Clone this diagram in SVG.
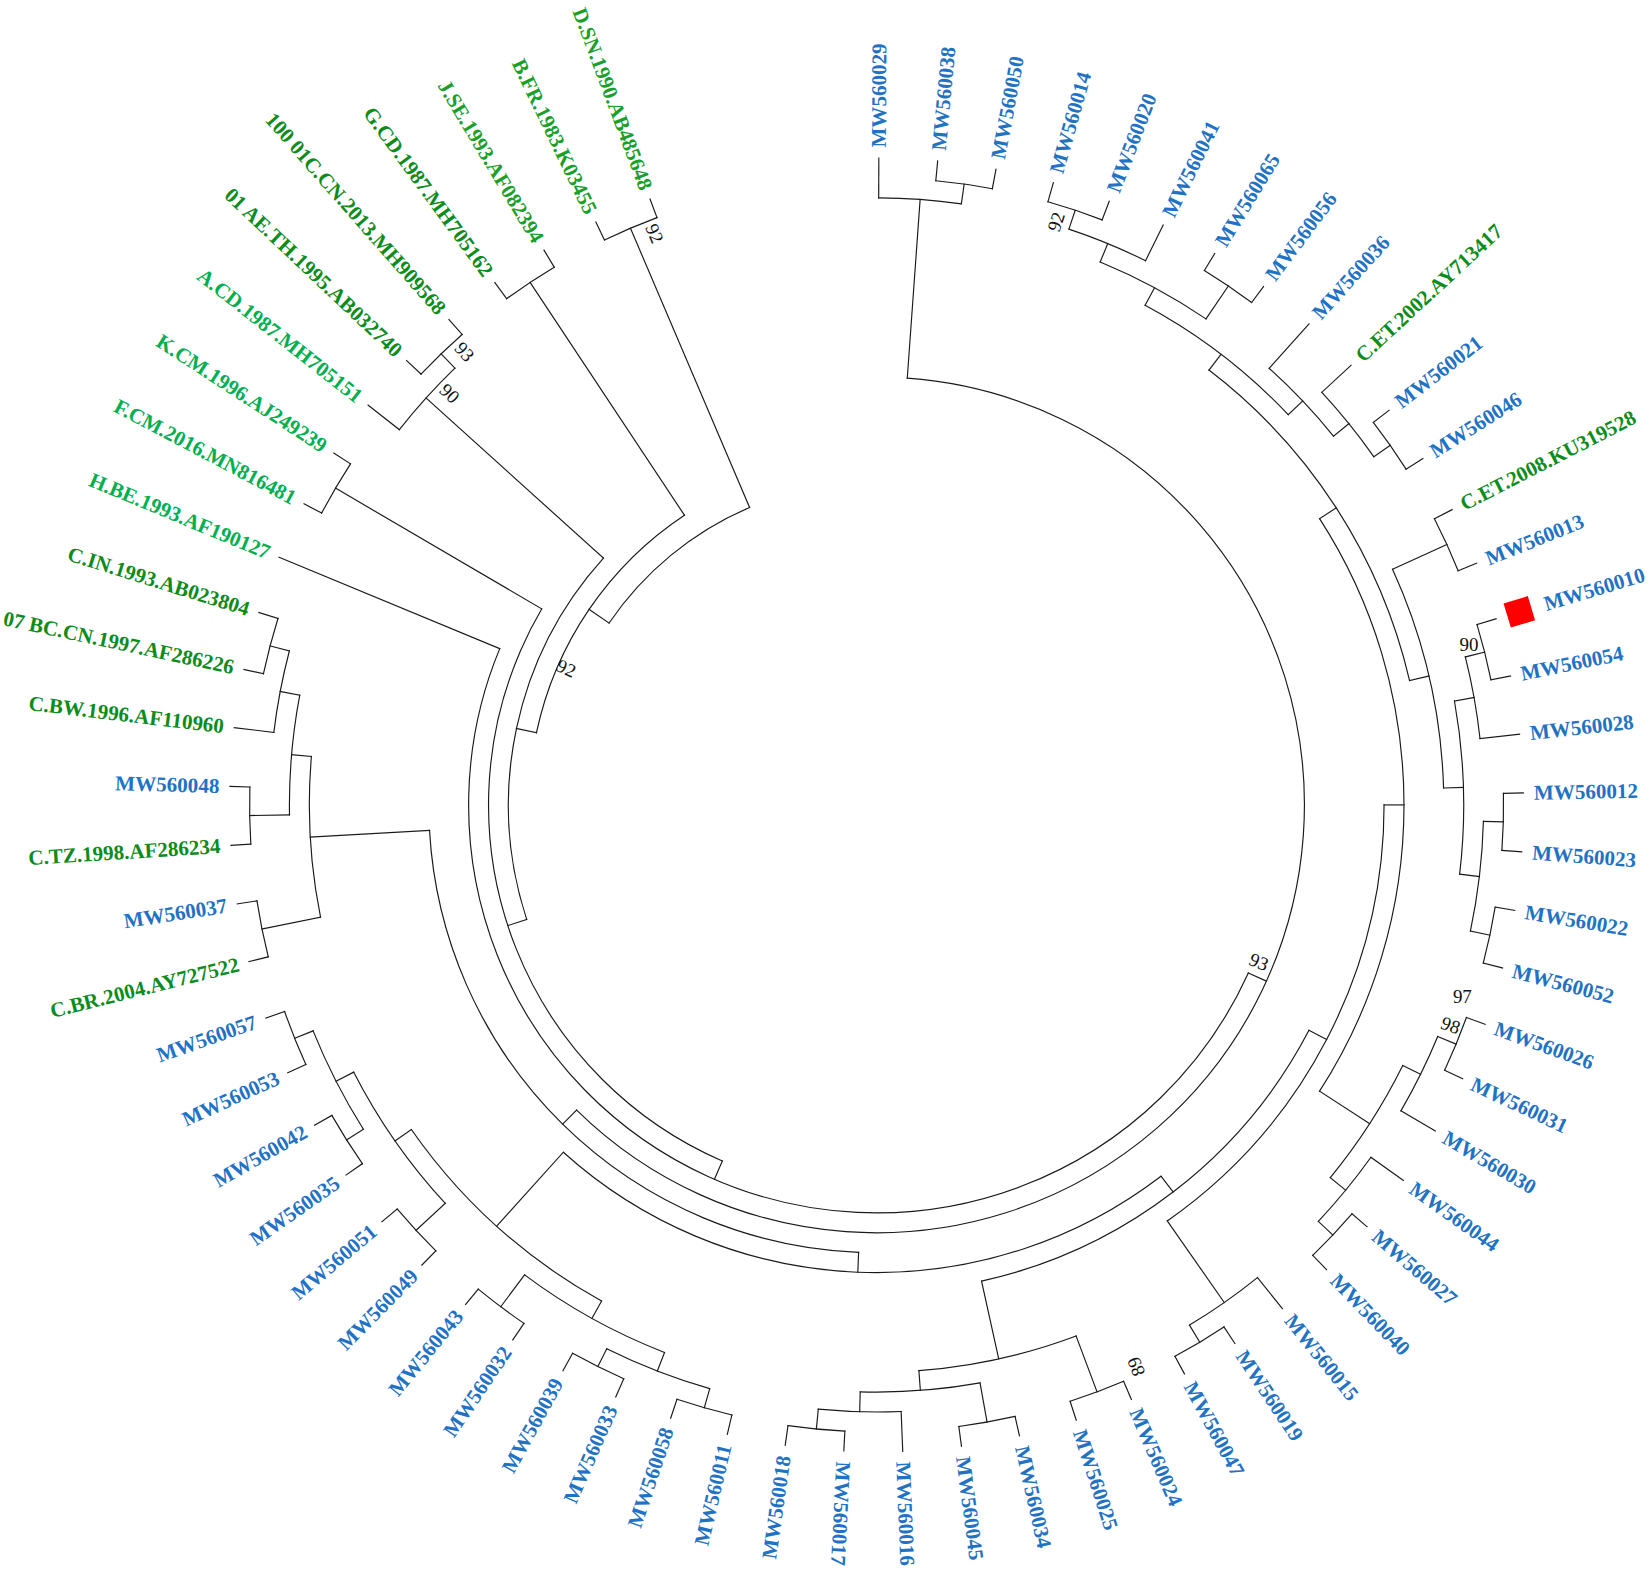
<svg xmlns="http://www.w3.org/2000/svg" width="1652" height="1575" viewBox="0 0 1652 1575">
<style>
.lb{font-family:"Liberation Serif","Times New Roman",serif;font-weight:bold;font-size:20px;dominant-baseline:central}
.L{text-anchor:end}
.b{fill:#1F72C4}
.g1{fill:#00B050}
.g2{fill:#19A02A}
.g3{fill:#0C8C1C}
.bs{font-family:"Liberation Serif","Times New Roman",serif;font-size:18px;fill:#111;text-anchor:middle;dominant-baseline:central}
</style>
<rect width="1652" height="1575" fill="#ffffff"/>
<g transform="scale(1.05357)">
<g transform="translate(832 764)">
<g id="connectors" fill="none" stroke="#1a1a1a" stroke-width="1.1" stroke-linecap="square">
<circle r="595.1" pathLength="360" stroke-dasharray="5.22 360" transform="rotate(-84.58)"/>
<circle r="576.2" pathLength="360" stroke-dasharray="7.83 360" transform="rotate(-89.8)"/>
<circle r="595.1" pathLength="360" stroke-dasharray="5.22 360" transform="rotate(-74.14)"/>
<circle r="576.2" pathLength="360" stroke-dasharray="7.83 360" transform="rotate(-71.53)"/>
<circle r="595.1" pathLength="360" stroke-dasharray="5.22 360" transform="rotate(-58.48)"/>
<circle r="557.3" pathLength="360" stroke-dasharray="11.745 360" transform="rotate(-67.615)"/>
<circle r="595.1" pathLength="360" stroke-dasharray="5.22 360" transform="rotate(-37.6)"/>
<circle r="576.2" pathLength="360" stroke-dasharray="7.83 360" transform="rotate(-42.82)"/>
<circle r="557.3" pathLength="360" stroke-dasharray="9.135 360" transform="rotate(-48.04)"/>
<circle r="538.4" pathLength="360" stroke-dasharray="18.27 360" transform="rotate(-61.7425)"/>
<circle r="595.1" pathLength="360" stroke-dasharray="5.22 360" transform="rotate(-27.16)"/>
<circle r="595.1" pathLength="360" stroke-dasharray="5.22 360" transform="rotate(-16.72)"/>
<circle r="576.2" pathLength="360" stroke-dasharray="7.83 360" transform="rotate(-14.11)"/>
<circle r="595.1" pathLength="360" stroke-dasharray="5.22 360" transform="rotate(-1.06)"/>
<circle r="595.1" pathLength="360" stroke-dasharray="5.22 360" transform="rotate(9.38)"/>
<circle r="576.2" pathLength="360" stroke-dasharray="10.44 360" transform="rotate(1.55)"/>
<circle r="557.3" pathLength="360" stroke-dasharray="16.965 360" transform="rotate(-10.195)"/>
<circle r="538.4" pathLength="360" stroke-dasharray="22.8375 360" transform="rotate(-24.55)"/>
<circle r="519.5" pathLength="360" stroke-dasharray="39.4763 360" transform="rotate(-52.6075)"/>
<circle r="595.1" pathLength="360" stroke-dasharray="5.22 360" transform="rotate(19.82)"/>
<circle r="576.2" pathLength="360" stroke-dasharray="7.83 360" transform="rotate(22.43)"/>
<circle r="595.1" pathLength="360" stroke-dasharray="5.22 360" transform="rotate(40.7)"/>
<circle r="576.2" pathLength="360" stroke-dasharray="7.83 360" transform="rotate(35.48)"/>
<circle r="557.3" pathLength="360" stroke-dasharray="13.05 360" transform="rotate(26.345)"/>
<circle r="500.6" pathLength="360" stroke-dasharray="65.739 360" transform="rotate(-32.869)"/>
<circle r="595.1" pathLength="360" stroke-dasharray="5.22 360" transform="rotate(56.36)"/>
<circle r="576.2" pathLength="360" stroke-dasharray="7.83 360" transform="rotate(51.14)"/>
<circle r="481.7" pathLength="360" stroke-dasharray="55.055 360" transform="rotate(0)"/>
<circle r="595.1" pathLength="360" stroke-dasharray="5.22 360" transform="rotate(66.8)"/>
<circle r="595.1" pathLength="360" stroke-dasharray="5.22 360" transform="rotate(77.24)"/>
<circle r="595.1" pathLength="360" stroke-dasharray="5.22 360" transform="rotate(92.9)"/>
<circle r="576.2" pathLength="360" stroke-dasharray="7.83 360" transform="rotate(87.68)"/>
<circle r="557.3" pathLength="360" stroke-dasharray="11.745 360" transform="rotate(79.85)"/>
<circle r="538.4" pathLength="360" stroke-dasharray="16.3125 360" transform="rotate(69.41)"/>
<circle r="462.8" pathLength="360" stroke-dasharray="50.0385 360" transform="rotate(27.5275)"/>
<circle r="595.1" pathLength="360" stroke-dasharray="5.22 360" transform="rotate(103.34)"/>
<circle r="595.1" pathLength="360" stroke-dasharray="5.22 360" transform="rotate(113.78)"/>
<circle r="576.2" pathLength="360" stroke-dasharray="10.44 360" transform="rotate(105.95)"/>
<circle r="595.1" pathLength="360" stroke-dasharray="5.22 360" transform="rotate(124.22)"/>
<circle r="557.3" pathLength="360" stroke-dasharray="15.66 360" transform="rotate(111.17)"/>
<circle r="595.1" pathLength="360" stroke-dasharray="5.22 360" transform="rotate(134.66)"/>
<circle r="595.1" pathLength="360" stroke-dasharray="5.22 360" transform="rotate(145.1)"/>
<circle r="595.1" pathLength="360" stroke-dasharray="5.22 360" transform="rotate(155.54)"/>
<circle r="576.2" pathLength="360" stroke-dasharray="10.44 360" transform="rotate(147.71)"/>
<circle r="557.3" pathLength="360" stroke-dasharray="15.66 360" transform="rotate(137.27)"/>
<circle r="538.4" pathLength="360" stroke-dasharray="26.1 360" transform="rotate(119)"/>
<circle r="443.9" pathLength="360" stroke-dasharray="79.503 360" transform="rotate(52.547)"/>
<circle r="595.1" pathLength="360" stroke-dasharray="5.22 360" transform="rotate(165.98)"/>
<circle r="595.1" pathLength="360" stroke-dasharray="5.22 360" transform="rotate(176.42)"/>
<circle r="595.1" pathLength="360" stroke-dasharray="5.22 360" transform="rotate(192.08)"/>
<circle r="576.2" pathLength="360" stroke-dasharray="7.83 360" transform="rotate(186.86)"/>
<circle r="557.3" pathLength="360" stroke-dasharray="11.745 360" transform="rotate(179.03)"/>
<circle r="538.4" pathLength="360" stroke-dasharray="16.3125 360" transform="rotate(168.59)"/>
<circle r="425" pathLength="360" stroke-dasharray="84.4475 360" transform="rotate(92.2985)"/>
<circle r="406.1" pathLength="360" stroke-dasharray="220.407 360" transform="rotate(-85.885)"/>
<circle r="387.2" pathLength="360" stroke-dasharray="178.2015 360" transform="rotate(24.3185)"/>
<circle r="595.1" pathLength="360" stroke-dasharray="5.22 360" transform="rotate(207.74)"/>
<circle r="368.3" pathLength="360" stroke-dasharray="96.931 360" transform="rotate(113.419)"/>
<circle r="595.1" pathLength="360" stroke-dasharray="5.22 360" transform="rotate(223.4)"/>
<circle r="576.2" pathLength="360" stroke-dasharray="7.83 360" transform="rotate(218.18)"/>
<circle r="349.4" pathLength="360" stroke-dasharray="60.21 360" transform="rotate(161.885)"/>
<circle r="595.1" pathLength="360" stroke-dasharray="5.22 360" transform="rotate(233.84)"/>
<circle r="330" pathLength="360" stroke-dasharray="44.46 360" transform="rotate(191.99)"/>
<circle r="595.1" pathLength="360" stroke-dasharray="5.22 360" transform="rotate(244.28)"/>
<circle r="307" pathLength="360" stroke-dasharray="32.67 360" transform="rotate(214.22)"/>
<line x1="576.2" x2="614" transform="rotate(-89.8)"/>
<line x1="595.1" x2="614" transform="rotate(-84.58)"/>
<line x1="595.1" x2="614" transform="rotate(-79.36)"/>
<line x1="595.1" x2="614" transform="rotate(-74.14)"/>
<line x1="595.1" x2="614" transform="rotate(-68.92)"/>
<line x1="576.2" x2="614" transform="rotate(-63.7)"/>
<line x1="595.1" x2="614" transform="rotate(-58.48)"/>
<line x1="595.1" x2="614" transform="rotate(-53.26)"/>
<line x1="557.3" x2="614" transform="rotate(-48.04)"/>
<line x1="576.2" x2="614" transform="rotate(-42.82)"/>
<line x1="595.1" x2="614" transform="rotate(-37.6)"/>
<line x1="595.1" x2="614" transform="rotate(-32.38)"/>
<line x1="595.1" x2="614" transform="rotate(-27.16)"/>
<line x1="595.1" x2="614" transform="rotate(-21.94)"/>
<line x1="595.1" x2="614" transform="rotate(-16.72)"/>
<line x1="595.1" x2="614" transform="rotate(-11.5)"/>
<line x1="576.2" x2="614" transform="rotate(-6.28)"/>
<line x1="595.1" x2="614" transform="rotate(-1.06)"/>
<line x1="595.1" x2="614" transform="rotate(4.16)"/>
<line x1="595.1" x2="614" transform="rotate(9.38)"/>
<line x1="595.1" x2="614" transform="rotate(14.6)"/>
<line x1="595.1" x2="614" transform="rotate(19.82)"/>
<line x1="595.1" x2="614" transform="rotate(25.04)"/>
<line x1="576.2" x2="614" transform="rotate(30.26)"/>
<line x1="576.2" x2="614" transform="rotate(35.48)"/>
<line x1="595.1" x2="614" transform="rotate(40.7)"/>
<line x1="595.1" x2="614" transform="rotate(45.92)"/>
<line x1="576.2" x2="614" transform="rotate(51.14)"/>
<line x1="595.1" x2="614" transform="rotate(56.36)"/>
<line x1="595.1" x2="614" transform="rotate(61.58)"/>
<line x1="595.1" x2="614" transform="rotate(66.8)"/>
<line x1="595.1" x2="614" transform="rotate(72.02)"/>
<line x1="595.1" x2="614" transform="rotate(77.24)"/>
<line x1="595.1" x2="614" transform="rotate(82.46)"/>
<line x1="576.2" x2="614" transform="rotate(87.68)"/>
<line x1="595.1" x2="614" transform="rotate(92.9)"/>
<line x1="595.1" x2="614" transform="rotate(98.12)"/>
<line x1="595.1" x2="614" transform="rotate(103.34)"/>
<line x1="595.1" x2="614" transform="rotate(108.56)"/>
<line x1="595.1" x2="614" transform="rotate(113.78)"/>
<line x1="595.1" x2="614" transform="rotate(119)"/>
<line x1="595.1" x2="614" transform="rotate(124.22)"/>
<line x1="595.1" x2="614" transform="rotate(129.44)"/>
<line x1="595.1" x2="614" transform="rotate(134.66)"/>
<line x1="595.1" x2="614" transform="rotate(139.88)"/>
<line x1="595.1" x2="614" transform="rotate(145.1)"/>
<line x1="595.1" x2="614" transform="rotate(150.32)"/>
<line x1="595.1" x2="614" transform="rotate(155.54)"/>
<line x1="595.1" x2="614" transform="rotate(160.76)"/>
<line x1="595.1" x2="614" transform="rotate(165.98)"/>
<line x1="595.1" x2="614" transform="rotate(171.2)"/>
<line x1="595.1" x2="614" transform="rotate(176.42)"/>
<line x1="595.1" x2="614" transform="rotate(181.64)"/>
<line x1="576.2" x2="614" transform="rotate(186.86)"/>
<line x1="595.1" x2="614" transform="rotate(192.08)"/>
<line x1="595.1" x2="614" transform="rotate(197.3)"/>
<line x1="387.2" x2="614" transform="rotate(202.52)"/>
<line x1="595.1" x2="614" transform="rotate(207.74)"/>
<line x1="595.1" x2="614" transform="rotate(212.96)"/>
<line x1="576.2" x2="614" transform="rotate(218.18)"/>
<line x1="595.1" x2="614" transform="rotate(223.4)"/>
<line x1="595.1" x2="614" transform="rotate(228.62)"/>
<line x1="595.1" x2="614" transform="rotate(233.84)"/>
<line x1="595.1" x2="614" transform="rotate(239.06)"/>
<line x1="595.1" x2="614" transform="rotate(244.28)"/>
<line x1="595.1" x2="614" transform="rotate(249.5)"/>
<line x1="576.2" x2="595.1" transform="rotate(-81.97)"/>
<line x1="406.1" x2="576.2" transform="rotate(-85.885)"/>
<line x1="576.2" x2="595.1" transform="rotate(-71.53)"/>
<line x1="557.3" x2="576.2" transform="rotate(-67.615)"/>
<line x1="557.3" x2="595.1" transform="rotate(-55.87)"/>
<line x1="538.4" x2="557.3" transform="rotate(-61.7425)"/>
<line x1="576.2" x2="595.1" transform="rotate(-34.99)"/>
<line x1="557.3" x2="576.2" transform="rotate(-38.905)"/>
<line x1="538.4" x2="557.3" transform="rotate(-43.4725)"/>
<line x1="519.5" x2="538.4" transform="rotate(-52.6075)"/>
<line x1="538.4" x2="595.1" transform="rotate(-24.55)"/>
<line x1="576.2" x2="595.1" transform="rotate(-14.11)"/>
<line x1="557.3" x2="576.2" transform="rotate(-10.195)"/>
<line x1="576.2" x2="595.1" transform="rotate(1.55)"/>
<line x1="576.2" x2="595.1" transform="rotate(11.99)"/>
<line x1="557.3" x2="576.2" transform="rotate(6.77)"/>
<line x1="538.4" x2="557.3" transform="rotate(-1.7125)"/>
<line x1="519.5" x2="538.4" transform="rotate(-13.131)"/>
<line x1="500.6" x2="519.5" transform="rotate(-32.869)"/>
<line x1="576.2" x2="595.1" transform="rotate(22.43)"/>
<line x1="576.2" x2="595.1" transform="rotate(43.31)"/>
<line x1="557.3" x2="576.2" transform="rotate(26.345)"/>
<line x1="557.3" x2="576.2" transform="rotate(39.395)"/>
<line x1="500.6" x2="557.3" transform="rotate(32.87)"/>
<line x1="481.7" x2="500.6" transform="rotate(0)"/>
<line x1="576.2" x2="595.1" transform="rotate(58.97)"/>
<line x1="481.7" x2="576.2" transform="rotate(55.055)"/>
<line x1="462.8" x2="481.7" transform="rotate(27.5275)"/>
<line x1="538.4" x2="595.1" transform="rotate(69.41)"/>
<line x1="557.3" x2="595.1" transform="rotate(79.85)"/>
<line x1="576.2" x2="595.1" transform="rotate(95.51)"/>
<line x1="557.3" x2="576.2" transform="rotate(91.595)"/>
<line x1="538.4" x2="557.3" transform="rotate(85.7225)"/>
<line x1="462.8" x2="538.4" transform="rotate(77.566)"/>
<line x1="443.9" x2="462.8" transform="rotate(52.547)"/>
<line x1="576.2" x2="595.1" transform="rotate(105.95)"/>
<line x1="576.2" x2="595.1" transform="rotate(116.39)"/>
<line x1="557.3" x2="576.2" transform="rotate(111.17)"/>
<line x1="557.3" x2="595.1" transform="rotate(126.83)"/>
<line x1="538.4" x2="557.3" transform="rotate(119)"/>
<line x1="557.3" x2="595.1" transform="rotate(137.27)"/>
<line x1="576.2" x2="595.1" transform="rotate(147.71)"/>
<line x1="576.2" x2="595.1" transform="rotate(158.15)"/>
<line x1="557.3" x2="576.2" transform="rotate(152.93)"/>
<line x1="538.4" x2="557.3" transform="rotate(145.1)"/>
<line x1="443.9" x2="538.4" transform="rotate(132.05)"/>
<line x1="425" x2="443.9" transform="rotate(92.2985)"/>
<line x1="538.4" x2="595.1" transform="rotate(168.59)"/>
<line x1="557.3" x2="595.1" transform="rotate(179.03)"/>
<line x1="576.2" x2="595.1" transform="rotate(194.69)"/>
<line x1="557.3" x2="576.2" transform="rotate(190.775)"/>
<line x1="538.4" x2="557.3" transform="rotate(184.9025)"/>
<line x1="425" x2="538.4" transform="rotate(176.746)"/>
<line x1="406.1" x2="425" transform="rotate(134.522)"/>
<line x1="387.2" x2="406.1" transform="rotate(24.3185)"/>
<line x1="368.3" x2="595.1" transform="rotate(210.35)"/>
<line x1="368.3" x2="387.2" transform="rotate(113.419)"/>
<line x1="349.4" x2="368.3" transform="rotate(161.885)"/>
<line x1="576.2" x2="595.1" transform="rotate(226.01)"/>
<line x1="349.4" x2="576.2" transform="rotate(222.095)"/>
<line x1="330" x2="349.4" transform="rotate(191.99)"/>
<line x1="330" x2="595.1" transform="rotate(236.45)"/>
<line x1="307" x2="330" transform="rotate(214.22)"/>
<line x1="307" x2="595.1" transform="rotate(246.89)"/>
</g>
<g id="leaves">
<g id="leaf-MW560029"><text class="lb b" transform="rotate(-89.8) translate(624 0)">MW560029</text></g>
<g id="leaf-MW560038"><text class="lb b" transform="rotate(-84.58) translate(624 0)">MW560038</text></g>
<g id="leaf-MW560050"><text class="lb b" transform="rotate(-79.36) translate(624 0)">MW560050</text></g>
<g id="leaf-MW560014"><text class="lb b" transform="rotate(-74.14) translate(624 0)">MW560014</text></g>
<g id="leaf-MW560020"><text class="lb b" transform="rotate(-68.92) translate(624 0)">MW560020</text></g>
<g id="leaf-MW560041"><text class="lb b" transform="rotate(-63.7) translate(624 0)">MW560041</text></g>
<g id="leaf-MW560065"><text class="lb b" transform="rotate(-58.48) translate(624 0)">MW560065</text></g>
<g id="leaf-MW560056"><text class="lb b" transform="rotate(-53.26) translate(624 0)">MW560056</text></g>
<g id="leaf-MW560036"><text class="lb b" transform="rotate(-48.04) translate(624 0)">MW560036</text></g>
<g id="leaf-C.ET.2002.AY713417"><text class="lb g3" transform="rotate(-42.82) translate(624 0)">C.ET.2002.AY713417</text></g>
<g id="leaf-MW560021"><text class="lb b" transform="rotate(-37.6) translate(624 0)">MW560021</text></g>
<g id="leaf-MW560046"><text class="lb b" transform="rotate(-32.38) translate(624 0)">MW560046</text></g>
<g id="leaf-C.ET.2008.KU319528"><text class="lb g3" transform="rotate(-27.16) translate(624 0)">C.ET.2008.KU319528</text></g>
<g id="leaf-MW560013"><text class="lb b" transform="rotate(-21.94) translate(624 0)">MW560013</text></g>
<g id="leaf-MW560010"><rect x="625" y="-12" width="24" height="24" fill="#FF0000" transform="rotate(-16.72)"/><text class="lb b" transform="rotate(-16.72) translate(662 0)">MW560010</text></g>
<g id="leaf-MW560054"><text class="lb b" transform="rotate(-11.5) translate(624 0)">MW560054</text></g>
<g id="leaf-MW560028"><text class="lb b" transform="rotate(-6.28) translate(624 0)">MW560028</text></g>
<g id="leaf-MW560012"><text class="lb b" transform="rotate(-1.06) translate(624 0)">MW560012</text></g>
<g id="leaf-MW560023"><text class="lb b" transform="rotate(4.16) translate(624 0)">MW560023</text></g>
<g id="leaf-MW560022"><text class="lb b" transform="rotate(9.38) translate(624 0)">MW560022</text></g>
<g id="leaf-MW560052"><text class="lb b" transform="rotate(14.6) translate(624 0)">MW560052</text></g>
<g id="leaf-MW560026"><text class="lb b" transform="rotate(19.82) translate(624 0)">MW560026</text></g>
<g id="leaf-MW560031"><text class="lb b" transform="rotate(25.04) translate(624 0)">MW560031</text></g>
<g id="leaf-MW560030"><text class="lb b" transform="rotate(30.26) translate(624 0)">MW560030</text></g>
<g id="leaf-MW560044"><text class="lb b" transform="rotate(35.48) translate(624 0)">MW560044</text></g>
<g id="leaf-MW560027"><text class="lb b" transform="rotate(40.7) translate(624 0)">MW560027</text></g>
<g id="leaf-MW560040"><text class="lb b" transform="rotate(45.92) translate(624 0)">MW560040</text></g>
<g id="leaf-MW560015"><text class="lb b" transform="rotate(51.14) translate(624 0)">MW560015</text></g>
<g id="leaf-MW560019"><text class="lb b" transform="rotate(56.36) translate(624 0)">MW560019</text></g>
<g id="leaf-MW560047"><text class="lb b" transform="rotate(61.58) translate(624 0)">MW560047</text></g>
<g id="leaf-MW560024"><text class="lb b" transform="rotate(66.8) translate(624 0)">MW560024</text></g>
<g id="leaf-MW560025"><text class="lb b" transform="rotate(72.02) translate(624 0)">MW560025</text></g>
<g id="leaf-MW560034"><text class="lb b" transform="rotate(77.24) translate(624 0)">MW560034</text></g>
<g id="leaf-MW560045"><text class="lb b" transform="rotate(82.46) translate(624 0)">MW560045</text></g>
<g id="leaf-MW560016"><text class="lb b" transform="rotate(87.68) translate(624 0)">MW560016</text></g>
<g id="leaf-MW560017"><text class="lb b" transform="rotate(92.9) translate(624 0)">MW560017</text></g>
<g id="leaf-MW560018"><text class="lb b L" transform="rotate(98.12) translate(624 0) rotate(180)">MW560018</text></g>
<g id="leaf-MW560011"><text class="lb b L" transform="rotate(103.34) translate(624 0) rotate(180)">MW560011</text></g>
<g id="leaf-MW560058"><text class="lb b L" transform="rotate(108.56) translate(624 0) rotate(180)">MW560058</text></g>
<g id="leaf-MW560033"><text class="lb b L" transform="rotate(113.78) translate(624 0) rotate(180)">MW560033</text></g>
<g id="leaf-MW560039"><text class="lb b L" transform="rotate(119) translate(624 0) rotate(180)">MW560039</text></g>
<g id="leaf-MW560032"><text class="lb b L" transform="rotate(124.22) translate(624 0) rotate(180)">MW560032</text></g>
<g id="leaf-MW560043"><text class="lb b L" transform="rotate(129.44) translate(624 0) rotate(180)">MW560043</text></g>
<g id="leaf-MW560049"><text class="lb b L" transform="rotate(134.66) translate(624 0) rotate(180)">MW560049</text></g>
<g id="leaf-MW560051"><text class="lb b L" transform="rotate(139.88) translate(624 0) rotate(180)">MW560051</text></g>
<g id="leaf-MW560035"><text class="lb b L" transform="rotate(145.1) translate(624 0) rotate(180)">MW560035</text></g>
<g id="leaf-MW560042"><text class="lb b L" transform="rotate(150.32) translate(624 0) rotate(180)">MW560042</text></g>
<g id="leaf-MW560053"><text class="lb b L" transform="rotate(155.54) translate(624 0) rotate(180)">MW560053</text></g>
<g id="leaf-MW560057"><text class="lb b L" transform="rotate(160.76) translate(624 0) rotate(180)">MW560057</text></g>
<g id="leaf-C.BR.2004.AY727522"><text class="lb g3 L" transform="rotate(165.98) translate(624 0) rotate(180)">C.BR.2004.AY727522</text></g>
<g id="leaf-MW560037"><text class="lb b L" transform="rotate(171.2) translate(624 0) rotate(180)">MW560037</text></g>
<g id="leaf-C.TZ.1998.AF286234"><text class="lb g3 L" transform="rotate(176.42) translate(624 0) rotate(180)">C.TZ.1998.AF286234</text></g>
<g id="leaf-MW560048"><text class="lb b L" transform="rotate(181.64) translate(624 0) rotate(180)">MW560048</text></g>
<g id="leaf-C.BW.1996.AF110960"><text class="lb g3 L" transform="rotate(186.86) translate(624 0) rotate(180)">C.BW.1996.AF110960</text></g>
<g id="leaf-07BC.CN.1997.AF286226"><text class="lb g3 L" transform="rotate(192.08) translate(624 0) rotate(180)">07 BC.CN.1997.AF286226</text></g>
<g id="leaf-C.IN.1993.AB023804"><text class="lb g3 L" transform="rotate(197.3) translate(624 0) rotate(180)">C.IN.1993.AB023804</text></g>
<g id="leaf-H.BE.1993.AF190127"><text class="lb g1 L" transform="rotate(202.52) translate(624 0) rotate(180)">H.BE.1993.AF190127</text></g>
<g id="leaf-F.CM.2016.MN816481"><text class="lb g1 L" transform="rotate(207.74) translate(624 0) rotate(180)">F.CM.2016.MN816481</text></g>
<g id="leaf-K.CM.1996.AJ249239"><text class="lb g1 L" transform="rotate(212.96) translate(624 0) rotate(180)">K.CM.1996.AJ249239</text></g>
<g id="leaf-A.CD.1987.MH705151"><text class="lb g1 L" transform="rotate(218.18) translate(624 0) rotate(180)">A.CD.1987.MH705151</text></g>
<g id="leaf-01AE.TH.1995.AB032740"><text class="lb g3 L" transform="rotate(223.4) translate(624 0) rotate(180)">01 AE.TH.1995.AB032740</text></g>
<g id="leaf-10001C.CN.2013.MH909568"><text class="lb g3 L" transform="rotate(228.62) translate(624 0) rotate(180)">100 01C.CN.2013.MH909568</text></g>
<g id="leaf-G.CD.1987.MH705162"><text class="lb g3 L" transform="rotate(233.84) translate(624 0) rotate(180)">G.CD.1987.MH705162</text></g>
<g id="leaf-J.SE.1993.AF082394"><text class="lb g2 L" transform="rotate(239.06) translate(624 0) rotate(180)">J.SE.1993.AF082394</text></g>
<g id="leaf-B.FR.1983.K03455"><text class="lb g2 L" transform="rotate(244.28) translate(624 0) rotate(180)">B.FR.1983.K03455</text></g>
<g id="leaf-D.SN.1990.AB485648"><text class="lb g2 L" transform="rotate(249.5) translate(624 0) rotate(180)">D.SN.1990.AB485648</text></g>
</g>
<g id="bootstrap" class="bs">
<text transform="translate(-210.6 -542.5) rotate(67)">92</text>
<text transform="translate(-391 -430.2) rotate(48)">93</text>
<text transform="translate(-405.2 -390.7) rotate(44)">90</text>
<text transform="translate(-294.5 -129.7) rotate(24)">92</text>
<text transform="translate(170.3 -553.6) rotate(-72)">92</text>
<text transform="translate(562.3 -151.8)">90</text>
<text transform="translate(363 148.8) rotate(22)">93</text>
<text transform="translate(556 182)">97</text>
<text transform="translate(544.9 208.9) rotate(20)">98</text>
<text transform="translate(246.2 533.2) rotate(248)">89</text>
</g>
</g>
</g>
</svg>
